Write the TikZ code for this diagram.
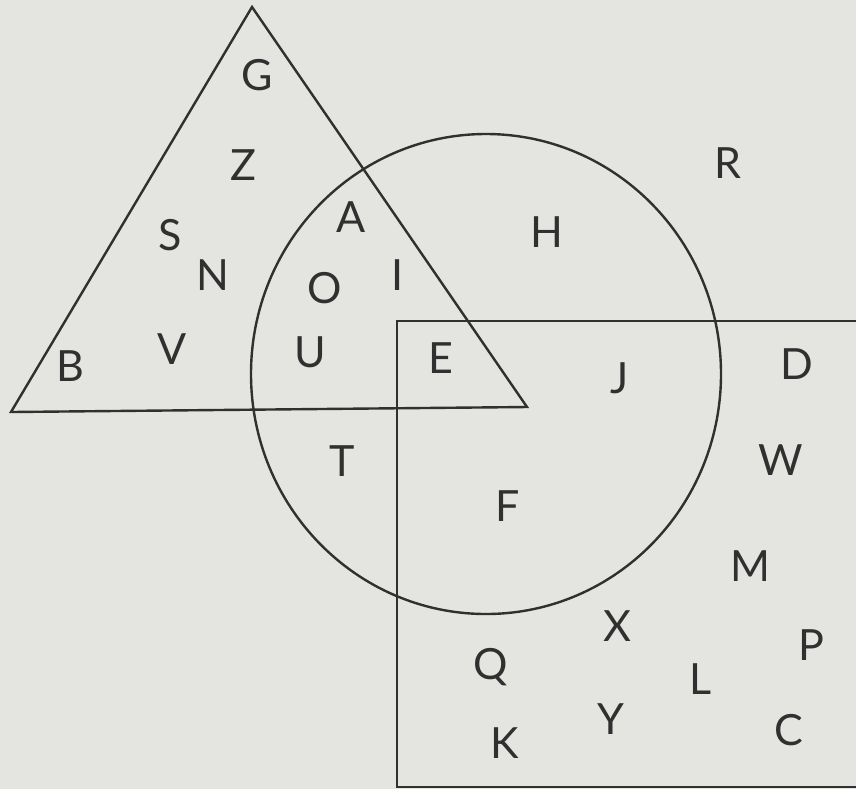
\documentclass[tikz,border=0pt]{standalone}
\usepackage{fontspec}
\setmainfont{Lato}
\usepackage{tikz}
\definecolor{paper}{HTML}{E4E4E0}
\definecolor{inkgray}{HTML}{303030}

\tikzset{
  outline/.style={inkgray, line width=1.2pt, line join=miter},
  letter/.style={inkgray, inner sep=0pt, anchor=center, font=\fontsize{21.5}{21.5}\selectfont}
}

\begin{document}
\begin{tikzpicture}[x=0.5pt, y=-0.5pt]

% Paper
\fill[paper] (0,0) rectangle (856,789);
\useasboundingbox (0,0) rectangle (856,789);

% Triangle
\draw[outline] (252,7) -- (11,412) -- (527,407) -- cycle;

% Circle (slightly stretched by the photo)
\draw[outline] (486,374) ellipse (235 and 240);

% Rectangle, running off the right edge
\draw[outline] (856,321) -- (397,321) -- (397,787) -- (856,787);

% Letters in the triangle only
\node[letter] (g) at (257,75) {G};
\node[letter] (z) at (243,165) {Z};
\node[letter] (s) at (170,235) {S};
\node[letter] (n) at (213,275) {N};
\node[letter] (b) at (70,366) {B};
\node[letter] (v) at (172,349) {V};

% Triangle and circle
\node[letter] (a) at (351,217) {A};
\node[letter] (o) at (325,288) {O};
\node[letter] (i) at (398,275) {I};
\node[letter] (u) at (310,352) {U};

% All three
\node[letter] (e) at (441,358) {E};

% Circle only
\node[letter] (h) at (547,232) {H};
\node[letter] (t) at (342,461) {T};

% Circle and rectangle
\node[letter] (j) at (620,378) {J};
\node[letter] (f) at (508,506) {F};

% Outside everything
\node[letter] (r) at (728,163) {R};

% Rectangle only
\node[letter] (d) at (797,364) {D};
\node[letter] (w) at (781,460) {W};
\node[letter] (m) at (750,566) {M};
\node[letter] (x) at (617,626) {X};
\node[letter] (p) at (811,645) {P};
\node[letter] (q) at (491,667) {Q};
\node[letter] (l) at (701,679) {L};
\node[letter] (y) at (611,719) {Y};
\node[letter] (c) at (789,730) {C};
\node[letter] (k) at (505,743) {K};

\end{tikzpicture}
\end{document}
